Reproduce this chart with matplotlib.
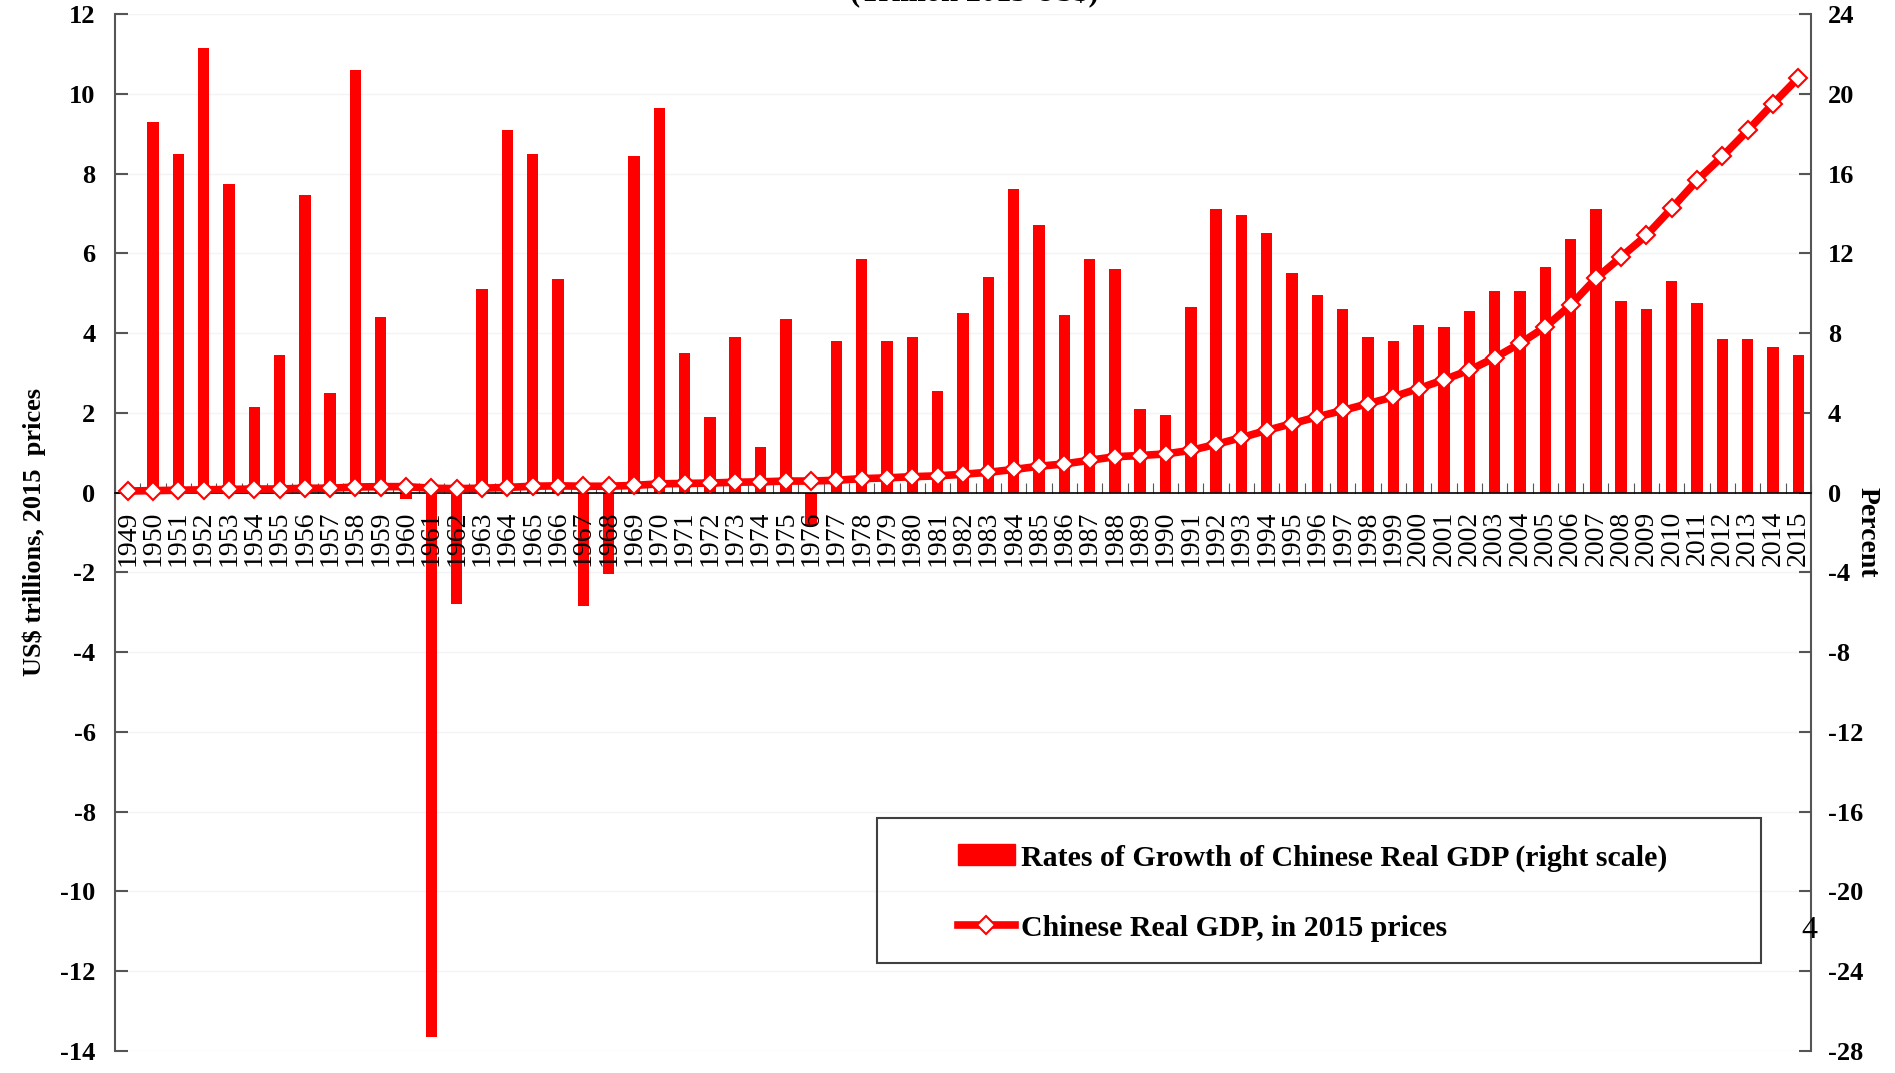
import numpy as np
import matplotlib
matplotlib.use("Agg")
import matplotlib.pyplot as plt
from matplotlib.patches import Patch, Rectangle
from matplotlib.lines import Line2D

plt.rcParams['font.family'] = ['Liberation Serif', 'DejaVu Serif']
plt.rcParams['axes.unicode_minus'] = False

years = list(range(1949, 2016))

# growth rates of real GDP, percent (right scale)
growth = [0.0, 18.6, 17.0, 22.3, 15.5, 4.3, 6.9, 14.9, 5.0, 21.2,
          8.8, -0.3, -27.3, -5.6, 10.2, 18.2, 17.0, 10.7, -5.7, -4.1,
          16.9, 19.3, 7.0, 3.8, 7.8, 2.3, 8.7, -1.6, 7.6, 11.7,
          7.6, 7.8, 5.1, 9.0, 10.8, 15.2, 13.4, 8.9, 11.7, 11.2,
          4.2, 3.9, 9.3, 14.2, 13.9, 13.0, 11.0, 9.9, 9.2, 7.8,
          7.6, 8.4, 8.3, 9.1, 10.1, 10.1, 11.3, 12.7, 14.2, 9.6,
          9.2, 10.6, 9.5, 7.7, 7.7, 7.3, 6.9]

# real GDP, trillions of 2015 US$ (left scale)
gdp = [0.04, 0.05, 0.06, 0.07, 0.08, 0.09, 0.09, 0.11, 0.11, 0.14,
       0.15, 0.15, 0.11, 0.10, 0.11, 0.13, 0.16, 0.17, 0.16, 0.16,
       0.18, 0.22, 0.23, 0.24, 0.26, 0.27, 0.29, 0.29, 0.31, 0.35,
       0.37, 0.40, 0.42, 0.46, 0.51, 0.58, 0.66, 0.72, 0.81, 0.90,
       0.93, 0.97, 1.06, 1.21, 1.38, 1.56, 1.73, 1.90, 2.06, 2.23,
       2.40, 2.61, 2.83, 3.07, 3.38, 3.74, 4.15, 4.70, 5.37, 5.91,
       6.45, 7.13, 7.83, 8.43, 9.08, 9.75, 10.40]

bar_label = 'Rates of Growth of Chinese Real GDP (right scale)'
line_label = 'Chinese Real GDP, in 2015 prices'

W, H = 1895, 1073
fig = plt.figure(figsize=(W / 100, H / 100), dpi=100)
ax = fig.add_axes([115 / W, 1 - 1051 / H, 1696 / W, 1037 / H])
ax2 = ax.twinx()

x = np.arange(len(years))

# bars on the right (percent) axis
ax2.bar(x, growth, width=0.45, color='#ff0000', zorder=2)
ax2.set_ylim(-28, 24)
ax2.set_yticks(range(-28, 25, 4))
ax2.set_axisbelow(True)
ax2.grid(axis='y', color='#f4f4f4', lw=1)

# line on the left (trillions) axis, drawn on top
ax.set_zorder(ax2.get_zorder() + 1)
ax.patch.set_visible(False)
ax.plot(x, gdp, color='#ff0000', lw=5.5, marker='D', ms=9,
        mfc='white', mec='#ff0000', mew=1.5, zorder=3)
ax.set_ylim(-14, 12)
ax.set_yticks(range(-14, 13, 2))
ax.set_xlim(-0.5, len(years) - 0.5)

# category axis through zero
ax.spines['bottom'].set_position(('data', 0))
ax.spines['bottom'].set_color('black')
ax.spines['bottom'].set_linewidth(1.2)
for s in ['top', 'right']:
    ax.spines[s].set_visible(False)
for s in ['top', 'left', 'bottom']:
    ax2.spines[s].set_visible(False)
ax.spines['left'].set_color('#555555')
ax.spines['left'].set_linewidth(1.5)
ax2.spines['right'].set_color('#555555')
ax2.spines['right'].set_linewidth(1.5)

ax.set_xticks(np.arange(len(years) + 1) - 0.5)
ax.set_xticklabels([])
ax.set_xticks(x, minor=True)
ax.set_xticklabels([str(y) for y in years], minor=True, rotation=90,
                   fontsize=20, va='top')
ax.tick_params(axis='x', which='major', direction='in', length=7,
               color='#555555')
ax.tick_params(axis='x', which='minor', length=0, pad=13)

ax.tick_params(axis='y', direction='in', length=9, width=1.5,
               color='#555555', pad=14, labelsize=19)
ax2.tick_params(axis='y', direction='in', length=9, width=1.5,
                color='#555555', pad=12, labelsize=19)
for lab in ax.get_yticklabels() + ax2.get_yticklabels():
    lab.set_fontweight('bold')

ax.set_ylabel('US$ trillions, 2015  prices', fontsize=19,
              fontweight='bold', labelpad=10)
ax2.set_ylabel('Percent', fontsize=20, fontweight='bold',
               rotation=270, labelpad=12)

# legend
handles = [Patch(facecolor='#ff0000', edgecolor='#ff0000'),
           Line2D([], [], color='#ff0000', lw=5.5, marker='D', ms=9,
                  mfc='white', mec='#ff0000', mew=1.5)]
leg = ax.legend(handles, [bar_label, line_label], loc='center left',
                bbox_to_anchor=(958 / W, 1 - 893 / H),
                bbox_transform=fig.transFigure, frameon=False,
                borderpad=0, borderaxespad=0, handlelength=1.9,
                handletextpad=0.2, labelspacing=1.45,
                prop={'family': 'Liberation Serif', 'weight': 'bold',
                      'size': 21.5})
fig.add_artist(Rectangle((877 / W, 1 - 963 / H), 884 / W, 145 / H,
                         transform=fig.transFigure, fill=False,
                         edgecolor='#404040', lw=1.5))

# cut-off subtitle and stray page number
fig.text(974 / W, 1 - 8 / H, '(Trillion 2015 US$)', ha='center',
         va='bottom', fontsize=22, fontweight='bold')
fig.text(1809 / W, 1 - 931 / H, '4', ha='center', va='center',
         fontsize=23)

fig.savefig('out.png', dpi=100)
